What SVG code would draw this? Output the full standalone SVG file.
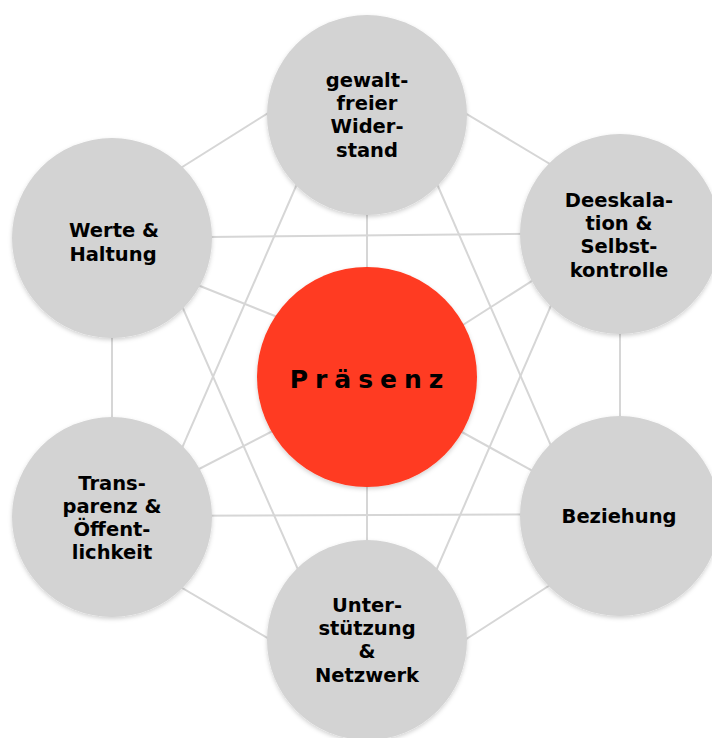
<svg xmlns="http://www.w3.org/2000/svg" width="712" height="738" viewBox="0 0 712 738">
<defs>
<filter id="sh" x="-20%" y="-20%" width="140%" height="140%">
<feDropShadow dx="0" dy="2" stdDeviation="2" flood-color="#000" flood-opacity="0.18"/>
</filter>
</defs>
<style>
.c{fill:#d3d3d3;filter:url(#sh)}
.l{stroke:#d6d6d6;stroke-width:2;fill:none}
.t{font-family:"DejaVu Sans",Verdana,sans-serif;font-weight:bold;font-size:19.5px;fill:#000;text-anchor:middle}
.p{font-family:"DejaVu Sans",Verdana,sans-serif;font-weight:bold;font-size:25px;fill:#000;text-anchor:middle;letter-spacing:7px}
</style>
<rect width="712" height="738" fill="#fff"/>
<g id="connectors">
<line class="l" x1="160" y1="181" x2="300" y2="93"/>
<line class="l" x1="440" y1="98" x2="580" y2="182"/>
<line class="l" x1="367" y1="115" x2="367" y2="377"/>
<line class="l" x1="327" y1="115" x2="152" y2="517"/>
<line class="l" x1="407" y1="115" x2="582" y2="517"/>
<line class="l" x1="112" y1="238" x2="620" y2="233"/>
<line class="l" x1="170" y1="274" x2="300" y2="326"/>
<line class="l" x1="112" y1="238" x2="112" y2="517"/>
<line class="l" x1="152" y1="238" x2="329" y2="640"/>
<line class="l" x1="560" y1="263" x2="430" y2="346"/>
<line class="l" x1="620" y1="234" x2="620" y2="516"/>
<line class="l" x1="582" y1="234" x2="406" y2="640"/>
<line class="l" x1="170" y1="484" x2="300" y2="417"/>
<line class="l" x1="112" y1="516" x2="620" y2="514"/>
<line class="l" x1="160" y1="575" x2="300" y2="657"/>
<line class="l" x1="440" y1="420" x2="560" y2="486"/>
<line class="l" x1="575" y1="569" x2="440" y2="656"/>
<line class="l" x1="367" y1="640" x2="367" y2="377"/>
</g>
<g id="node-top">
<circle class="c" cx="367" cy="115" r="100"/>
<text class="t" x="367" y="87">gewalt-</text>
<text class="t" x="367" y="110">freier</text>
<text class="t" x="367" y="133">Wider-</text>
<text class="t" x="367" y="157">stand</text>
</g>
<g id="node-werte">
<circle class="c" cx="112" cy="238" r="100"/>
<text class="t" x="114" y="237">Werte &amp;</text>
<text class="t" x="113" y="261">Haltung</text>
</g>
<g id="node-deeskalation">
<circle class="c" cx="620" cy="234" r="100"/>
<text class="t" x="619" y="207">Deeskala-</text>
<text class="t" x="619" y="230">tion &amp;</text>
<text class="t" x="619" y="253">Selbst-</text>
<text class="t" x="619" y="277">kontrolle</text>
</g>
<g id="node-transparenz">
<circle class="c" cx="112" cy="517" r="100"/>
<text class="t" x="112" y="490">Trans-</text>
<text class="t" x="112" y="513">parenz &amp;</text>
<text class="t" x="112" y="536">Öffent-</text>
<text class="t" x="112" y="559">lichkeit</text>
</g>
<g id="node-beziehung">
<circle class="c" cx="620" cy="516" r="100"/>
<text class="t" x="619" y="523">Beziehung</text>
</g>
<g id="node-unterstuetzung">
<circle class="c" cx="367" cy="640" r="100"/>
<text class="t" x="367" y="612">Unter-</text>
<text class="t" x="367" y="635">stützung</text>
<text class="t" x="367" y="658">&amp;</text>
<text class="t" x="367" y="682">Netzwerk</text>
</g>
<g id="node-praesenz">
<circle cx="367" cy="377" r="110" fill="#ff3a20" filter="url(#sh)"/>
<text class="p" x="370" y="388">Präsenz</text>
</g>
</svg>
